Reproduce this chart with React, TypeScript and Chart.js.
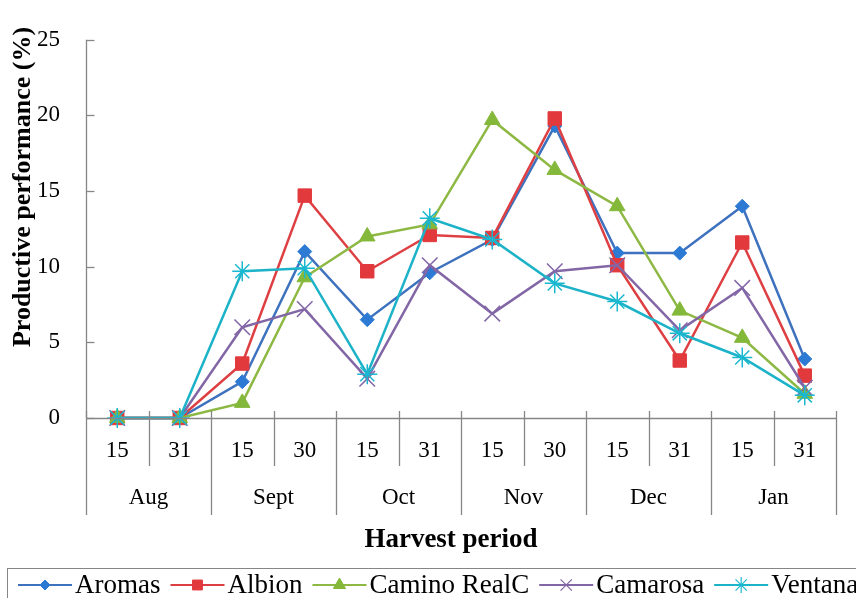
import React, { useEffect, useRef } from 'react';
import { Chart, registerables } from 'chart.js';
import { drawPoint } from 'chart.js/helpers';

Chart.register(...registerables);

const days = ['15', '31', '15', '30', '15', '31', '15', '30', '15', '31', '15', '31'];
const months = ['Aug', 'Sept', 'Oct', 'Nov', 'Dec', 'Jan'];
const yTicks = [0, 5, 10, 15, 20, 25];

const seriesNames = ['Aromas', 'Albion', 'Camino RealC', 'Camarosa', 'Ventana'];
const aromas = [0, 0, 2.4, 11.0, 6.5, 9.6, 11.8, 19.3, 10.9, 10.9, 14.0, 3.9];
const albion = [0, 0, 3.6, 14.7, 9.7, 12.1, 11.9, 19.8, 10.1, 3.8, 11.6, 2.8];
const caminoReal = [0, 0, 1.0, 9.3, 12.0, 12.8, 19.7, 16.4, 14.0, 7.1, 5.3, 1.6];
const camarosa = [0, 0, 6.0, 7.2, 2.6, 10.1, 6.9, 9.7, 10.1, 5.8, 8.6, 2.0];
const ventana = [0, 0, 9.7, 9.9, 2.9, 13.2, 11.8, 8.9, 7.7, 5.6, 4.0, 1.5];
const seriesValues = [aromas, albion, caminoReal, camarosa, ventana];

const lineColors = ['#3E72BE', '#DE3F42', '#8DB843', '#8266A6', '#1CB2C8'];
const markerColors = ['#2C7AD4', '#E2393D', '#84B83A', '#8266A6', '#1AB8D0'];
const pointStyles = ['rectRot', 'rect', 'triangle', 'crossRot', 'star'];
const pointRadii = [7, 9.5, 9, 11, 10];
const legendRadii = [5, 7, 7, 8, 8];

const FONT = '"Liberation Serif", "Times New Roman", serif';
const AXIS = '#868686';

const decorPlugin = {
  id: 'decor',
  afterDraw(chart: any) {
    const ctx: CanvasRenderingContext2D = chart.ctx;
    const xs = chart.scales.x;
    const ys = chart.scales.y;
    const { left, right, top, bottom } = chart.chartArea;
    const line = (x1: number, y1: number, x2: number, y2: number) => {
      ctx.beginPath();
      ctx.moveTo(x1, y1);
      ctx.lineTo(x2, y2);
      ctx.stroke();
    };
    ctx.save();
    ctx.strokeStyle = AXIS;
    ctx.lineWidth = 1.3;
    const lx = Math.round(left) + 0.5;
    line(lx, top, lx, bottom);
    yTicks.forEach((v) => {
      const py = Math.round(ys.getPixelForValue(v)) + 0.5;
      line(lx, py, lx + 8, py);
    });
    const by = Math.round(bottom) + 0.5;
    line(left, by, right, by);
    const n = days.length;
    for (let i = 0; i <= n; i++) {
      let px: number;
      if (i === 0) px = left;
      else if (i === n) px = right;
      else px = (xs.getPixelForValue(i - 1) + xs.getPixelForValue(i)) / 2;
      px = Math.round(px) + 0.5;
      const isMonth = i % 2 === 0;
      line(px, bottom - 7, px, bottom + (isMonth ? 97 : 48));
    }
    // month labels
    ctx.fillStyle = '#000';
    ctx.font = `23px ${FONT}`;
    ctx.textAlign = 'center';
    ctx.textBaseline = 'middle';
    months.forEach((m, i) => {
      const cx = (xs.getPixelForValue(2 * i) + xs.getPixelForValue(2 * i + 1)) / 2;
      ctx.fillText(m, cx, bottom + 80);
    });
    // x title
    ctx.font = `bold 27px ${FONT}`;
    ctx.fillText('Harvest period', 451, 540);
    // y title
    ctx.save();
    ctx.translate(23, 187);
    ctx.rotate(-Math.PI / 2);
    ctx.font = `bold 26px ${FONT}`;
    ctx.fillText('Productive performance (%)', 0, 0);
    ctx.restore();

    // legend
    ctx.strokeStyle = AXIS;
    ctx.lineWidth = 1;
    ctx.strokeRect(7.5, 568.5, 860, 40);
    let x = 18;
    const ly = 585;
    ctx.font = `27px ${FONT}`;
    ctx.textAlign = 'left';
    chart.data.datasets.forEach((ds: any, i: number) => {
      ctx.strokeStyle = lineColors[i];
      ctx.lineWidth = 2;
      line(x, ly, x + 54, ly);
      ctx.fillStyle = markerColors[i];
      ctx.strokeStyle = markerColors[i];
      ctx.lineWidth = i >= 3 ? 1.2 : 1;
      drawPoint(ctx, { pointStyle: pointStyles[i], radius: legendRadii[i], rotation: 0, borderWidth: ctx.lineWidth } as any, x + 27, ly);
      ctx.fillStyle = '#000';
      ctx.fillText(ds.label, x + 57, ly + 1);
      x = x + 57 + ctx.measureText(ds.label).width + 10;
    });
    ctx.restore();
  },
};

export default function App() {
  const ref = useRef<HTMLCanvasElement | null>(null);
  useEffect(() => {
    if (!ref.current) return;
    const chart = new Chart(ref.current, {
      type: 'line',
      data: {
        labels: days,
        datasets: seriesNames.map((name, i) => ({
          label: name,
          data: seriesValues[i],
          borderColor: lineColors[i],
          backgroundColor: markerColors[i],
          pointBackgroundColor: markerColors[i],
          pointBorderColor: markerColors[i],
          pointStyle: pointStyles[i] as any,
          pointRadius: pointRadii[i],
          pointBorderWidth: i >= 3 ? 1.5 : 1,
          borderWidth: 2.5,
          tension: 0,
          fill: false,
          order: 5 - i,
          clip: false as any,
        })),
      },
      options: {
        animation: false,
        responsive: false,
        devicePixelRatio: 1,
        layout: { padding: { top: 23, right: 20, left: 0, bottom: 0 } },
        plugins: { legend: { display: false }, tooltip: { enabled: false } },
        scales: {
          x: {
            type: 'category',
            offset: true,
            grid: { display: false, drawTicks: false },
            border: { display: false },
            ticks: {
              font: { family: FONT, size: 23 },
              color: '#000',
              padding: 19,
              maxRotation: 0,
              autoSkip: false,
            },
            afterFit: (s: any) => {
              s.height = 180;
            },
          },
          y: {
            min: 0,
            max: 25,
            grid: { display: false, drawTicks: false },
            border: { display: false },
            ticks: {
              stepSize: 5,
              font: { family: FONT, size: 23 },
              color: '#000',
              padding: 26,
            },
            afterFit: (s: any) => {
              s.width = 86;
            },
          },
        },
      },
      plugins: [decorPlugin],
    });
    return () => chart.destroy();
  }, []);
  return (
    <div style={{ position: 'absolute', left: 0, top: 0, width: 856, height: 598, background: '#fff' }}>
      <canvas ref={ref} width={856} height={598} style={{ display: 'block' }} />
    </div>
  );
}
